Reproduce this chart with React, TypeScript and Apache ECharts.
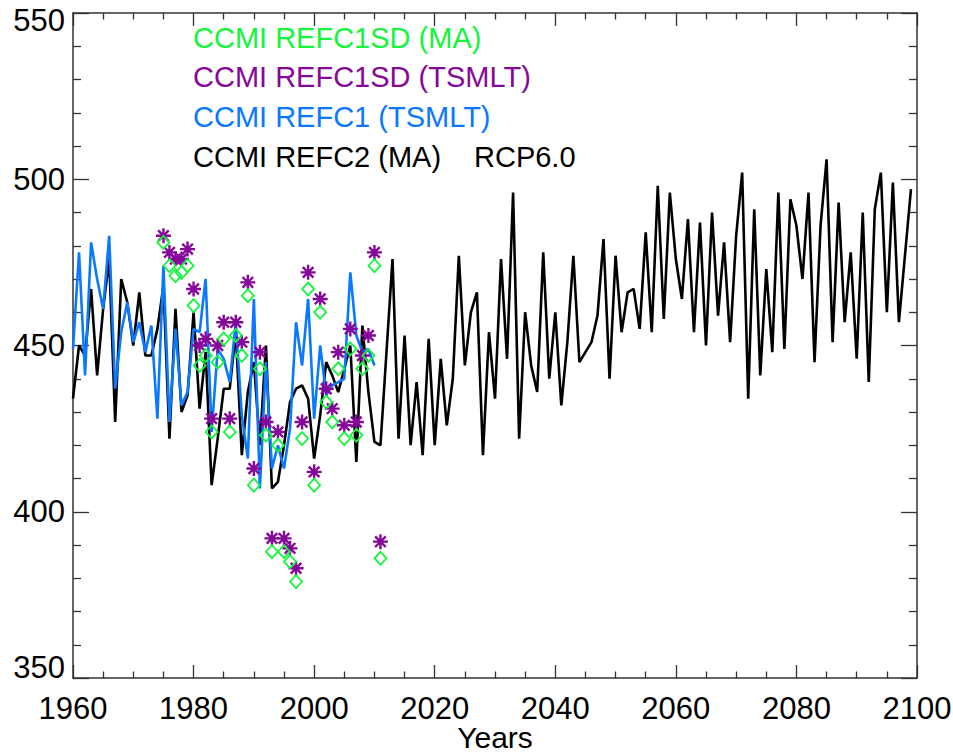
import React, { useEffect, useRef } from 'react';
import * as echarts from 'echarts';

// ---- Data ----
const refc2StartYear = 1960;
const refc2Values = [
  434, 450, 447, 467, 441, 461, 476, 427, 470, 463,
  450, 466, 447, 447, 455, 468, 422, 461, 430, 435,
  460, 431, 448, 408, 422, 437, 437, 454, 417, 436,
  445, 420, 450, 407, 409, 420, 433, 437, 438, 434,
  416, 429, 445, 441, 436, 443, 450, 415, 456, 436,
  421, 420, 448, 476, 422, 453, 420, 439, 417, 452,
  420, 446, 426, 440, 477, 444, 460, 466, 417, 454,
  434, 476, 446, 496, 422, 460, 444, 436, 478, 440,
  460, 432, 451, 477, 445, 448, 451, 459, 482, 440,
  477, 454, 466, 467, 455, 484, 454, 498, 458, 496,
  476, 464, 488, 454, 487, 450, 490, 459, 481, 451,
  483, 502, 434, 491, 441, 473, 448, 496, 449, 494,
  486, 470, 496, 445, 486, 506, 451, 493, 457, 478,
  446, 490, 439, 491, 502, 460, 499, 457, 477, 497,
];

const refc1StartYear = 1960;
const refc1Values = [
  449, 478, 441, 481, 470, 461, 483, 437, 454, 463,
  451, 457, 448, 456, 428, 474, 427, 455, 432, 436,
  455, 454, 470, 424, 449, 446, 439, 457, 429, 416,
  464, 407, 445, 413, 420, 413, 425, 457, 444, 464,
  428, 450, 435, 438, 439, 440, 472, 453, 448, 449,
  444,
];

const sdStartYear = 1975;
const sdTsmltValues = [
  483, 478, 476, 476, 479, 467, 450, 452, 428, 450,
  457, 428, 457, 451, 469, 413, 448, 427, 392, 424,
  392, 389, 383, 427, 472, 412, 464, 437, 431, 448,
  426, 455, 427, 447, 453, 478, 391,
];
const sdMaValues = [
  481, 474, 471, 472, 474, 462, 444, 447, 424, 445,
  452, 424, 453, 447, 465, 408, 443, 423, 388, 420,
  388, 385, 379, 422, 467, 408, 460, 433, 427, 443,
  422, 449, 423, 443, 447, 474, 386,
];

const xTickMin = 1960;
const xTickMax = 2100;
const xTickStep = 20;
const yTickMin = 350;
const yTickMax = 550;
const yTickStep = 50;

const legendLines = [
  { text: 'CCMI REFC1SD (MA)', color: '#14f53c' },
  { text: 'CCMI REFC1SD (TSMLT)', color: '#86089a' },
  { text: 'CCMI REFC1 (TSMLT)', color: '#0a78ff' },
  { text: 'CCMI REFC2 (MA)', color: '#000000' },
];
const scenarioLabel = 'RCP6.0';

const toPairs = (start: number, vals: number[]) => vals.map((v, i) => [start + i, v]);

const FONT = '"Liberation Sans", Arial, Helvetica, sans-serif';
const AXIS_COLOR = '#333333';
const GREEN = '#14f53c';
const PURPLE = '#86089a';
const BLUE = '#0a78ff';

const ASTERISK = 'path://M0,-10 L0,10 M-10,0 L10,0 M-7.07,-7.07 L7.07,7.07 M-7.07,7.07 L7.07,-7.07';

export default function App() {
  const ref = useRef<HTMLDivElement>(null);

  useEffect(() => {
    if (!ref.current) return;
    const chart = echarts.init(ref.current, undefined, { renderer: 'svg' });

    const tickLine = { color: AXIS_COLOR, width: 1.3 };
    const xCommon = {
      type: 'value',
      min: xTickMin,
      max: xTickMax,
      interval: xTickStep,
      splitLine: { show: false },
      axisLine: { show: true, onZero: false, lineStyle: { color: AXIS_COLOR, width: 1.5 } },
      axisTick: { show: true, inside: true, length: 13, lineStyle: tickLine },
      minorTick: { show: true, splitNumber: 4, length: 6.5, lineStyle: tickLine },
      minorSplitLine: { show: false },
    };
    const yCommon = {
      type: 'value',
      min: yTickMin,
      max: yTickMax,
      interval: yTickStep,
      splitLine: { show: false },
      axisLine: { show: true, onZero: false, lineStyle: { color: AXIS_COLOR, width: 1.5 } },
      axisTick: { show: true, inside: true, length: 16, lineStyle: tickLine },
      minorTick: { show: true, splitNumber: 5, length: 8, lineStyle: tickLine },
      minorSplitLine: { show: false },
    };

    const option: any = {
      animation: false,
      backgroundColor: '#ffffff',
      grid: {
        left: 73,
        right: 36,
        top: 13,
        bottom: 76,
        containLabel: false,
        outerBoundsMode: 'none',
      },
      xAxis: [
        {
          ...xCommon,
          position: 'bottom',
          axisLabel: {
            show: true,
            color: '#000',
            fontSize: 31,
            fontFamily: FONT,
            margin: 15,
            showMinLabel: true,
            showMaxLabel: true,
            formatter: (v: number) => String(v),
          },
          name: 'Years',
          nameLocation: 'middle',
          nameGap: 44,
          nameMoveOverlap: false,
          nameTextStyle: { color: '#000', fontSize: 30, fontFamily: FONT, lineHeight: 30 },
        },
        {
          ...xCommon,
          position: 'top',
          axisLabel: { show: false },
        },
      ],
      yAxis: [
        {
          ...yCommon,
          position: 'left',
          axisLabel: {
            show: true,
            color: '#000',
            fontSize: 31,
            fontFamily: FONT,
            margin: 8,
            showMinLabel: true,
            showMaxLabel: true,
            formatter: (v: number) =>
              v === yTickMax ? `{top|${v}}` : v === yTickMin ? `{bot|${v}}` : `{n|${v}}`,
            rich: {
              top: { fontSize: 31, fontFamily: FONT, color: '#000', padding: [14, 0, 0, 0] },
              bot: { fontSize: 31, fontFamily: FONT, color: '#000', padding: [0, 0, 22, 0] },
              n: { fontSize: 31, fontFamily: FONT, color: '#000' },
            },
          },
        },
        {
          ...yCommon,
          position: 'right',
          axisLabel: { show: false },
        },
      ],
      graphic: [
        ...legendLines.map((l, i) => ({
          type: 'text',
          x: 193,
          y: [38, 77, 117, 157][i],
          z: 100,
          style: {
            text: l.text,
            fill: l.color,
            font: `29px ${FONT}`,
            verticalAlign: 'middle',
            align: 'left',
          },
        })),
        {
          type: 'text',
          x: 474,
          y: 157,
          z: 100,
          style: {
            text: scenarioLabel,
            fill: '#000',
            font: `29px ${FONT}`,
            verticalAlign: 'middle',
            align: 'left',
          },
        },
      ],
      series: [
        {
          name: 'CCMI REFC2 (MA)',
          type: 'line',
          data: toPairs(refc2StartYear, refc2Values),
          symbol: 'none',
          lineStyle: { color: '#000', width: 2.6 },
          itemStyle: { color: '#000' },
          z: 2,
        },
        {
          name: 'CCMI REFC1 (TSMLT)',
          type: 'line',
          data: toPairs(refc1StartYear, refc1Values),
          symbol: 'none',
          lineStyle: { color: BLUE, width: 2.6 },
          itemStyle: { color: BLUE },
          z: 3,
        },
        {
          name: 'CCMI REFC1SD (TSMLT)',
          type: 'scatter',
          data: toPairs(sdStartYear, sdTsmltValues),
          symbol: ASTERISK,
          symbolSize: 15,
          itemStyle: { color: 'none', borderColor: PURPLE, borderWidth: 2.4, opacity: 1 },
          z: 4,
        },
        {
          name: 'CCMI REFC1SD (MA)',
          type: 'scatter',
          data: toPairs(sdStartYear, sdMaValues),
          symbol: 'diamond',
          symbolSize: [12, 13],
          itemStyle: { color: 'none', borderColor: GREEN, borderWidth: 1.8, opacity: 1 },
          z: 5,
        },
      ],
    };

    chart.setOption(option);
    return () => chart.dispose();
  }, []);

  return (
    <div
      ref={ref}
      style={{ position: 'absolute', left: 0, top: 0, width: 953, height: 754 }}
    />
  );
}
